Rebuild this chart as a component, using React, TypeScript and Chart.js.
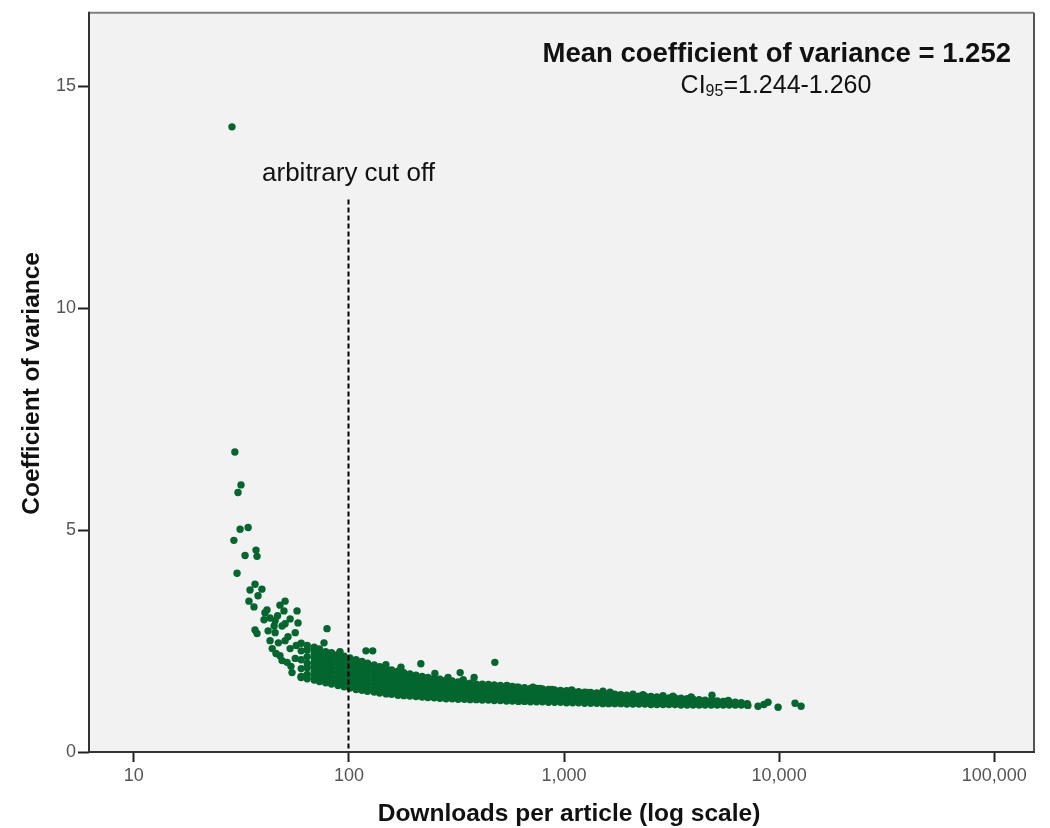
import React, { useEffect, useRef } from "react";
import { Chart, registerables } from "chart.js";

Chart.register(...registerables);

const FONT = '"Liberation Sans", Arial, sans-serif';

const xTickValues = [10, 100, 1000, 10000, 100000];
const yTickValues = [0, 5, 10, 15];
const xTitle = "Downloads per article (log scale)";
const yTitle = "Coefficient of variance";
const meanLabel = "Mean coefficient of variance = 1.252";
const ciPrefix = "CI";
const ciSub = "95";
const ciRange = "=1.244-1.260";
const cutoffLabel = "arbitrary cut off";
const cutoffDownloads = 100;
const cutoffTopCV = 12.45;

// Sparse points at the low-download end
const sparseDownloads = [
  28.6, 29.5, 31.5, 30.5, 31.2, 34.0, 29.2, 32.9, 37.0, 37.4, 30.2, 36.6, 34.7, 39.4, 37.8,
  34.3, 36.2, 41.6, 40.3, 47.8, 50.5, 57.4, 45.4, 36.6, 37.4, 42.1, 50.5, 79.1, 76.6, 90.9,
  120, 129, 54.4, 59.9, 45.8, 48.9, 43.0, 44.0, 47.0, 50.5, 53.3, 52.1, 56.3, 56.9, 47.8,
  51.6, 56.3, 53.8, 46.6, 48.9, 53.3, 49.9, 40.7, 45.4, 58.0, 43.0, 44.9,
];
const sparseCV = [
  14.09, 6.76, 6.02, 5.85, 5.02, 5.06, 4.77, 4.43, 4.55, 4.41, 4.03, 3.78, 3.65, 3.67, 3.52,
  3.40, 3.27, 3.20, 2.98, 3.31, 3.40, 3.18, 2.96, 2.75, 2.67, 2.73, 2.89, 2.78, 2.46, 2.26,
  2.28, 2.28, 1.79, 1.68, 2.22, 2.06, 2.51, 2.33, 2.46, 2.51, 2.33, 2.60, 2.69, 2.40, 2.17,
  2.02, 2.11, 1.93, 3.07, 2.84, 3.00, 3.18, 3.14, 2.69, 2.91, 3.02, 2.84,
];

// Dense band: downloads per column and the CV values seen in that column
const bandDownloads = [
  60, 64, 69, 73, 78, 83, 89, 95, 101, 108,
  115, 122, 131, 139, 149, 158, 169, 180, 192, 205,
  219, 233, 249, 265, 283, 302, 322, 344, 366, 391,
  417, 445, 474, 506, 540, 575, 614, 655, 698, 745,
  794, 847, 904, 964, 1028, 1096, 1169, 1247, 1330, 1419,
  1514, 1614, 1722, 1837, 1959, 2089, 2228, 2377, 2535, 2704,
  2884, 3076, 3281, 3499, 3733, 3981, 4246, 4529, 4831, 5152,
  5495, 5861, 6252, 6668, 7112,
];
const bandCV = [
  [1.70, 1.88, 2.08, 2.28, 2.45],
  [1.65, 1.75, 1.90, 2.00, 2.15, 2.30, 2.40],
  [1.62, 1.72, 1.82, 1.92, 2.02, 2.12, 2.22, 2.32, 2.36],
  [1.59, 1.64, 1.74, 1.84, 1.94, 2.04, 2.14, 2.24, 2.32],
  [1.56, 1.66, 1.76, 1.86, 1.96, 2.06, 2.16, 2.26],
  [1.53, 1.58, 1.68, 1.78, 1.88, 1.98, 2.08, 2.18, 2.24],
  [1.50, 1.60, 1.70, 1.80, 1.90, 2.00, 2.10, 2.20],
  [1.47, 1.52, 1.62, 1.72, 1.82, 1.92, 2.02, 2.12, 2.16],
  [1.44, 1.54, 1.64, 1.74, 1.84, 1.94, 2.04, 2.12],
  [1.41, 1.46, 1.56, 1.66, 1.76, 1.86, 1.96, 2.06, 2.08],
  [1.39, 1.49, 1.59, 1.69, 1.79, 1.89, 1.99, 2.04],
  [1.37, 1.42, 1.52, 1.62, 1.72, 1.82, 1.92, 2.00],
  [1.35, 1.45, 1.55, 1.65, 1.75, 1.85, 1.96],
  [1.33, 1.38, 1.48, 1.58, 1.68, 1.78, 1.88, 1.92],
  [1.31, 1.41, 1.51, 1.61, 1.71, 1.81, 1.88],
  [1.30, 1.35, 1.45, 1.55, 1.65, 1.75, 1.85],
  [1.28, 1.38, 1.48, 1.58, 1.68, 1.78, 1.82],
  [1.27, 1.32, 1.42, 1.52, 1.62, 1.72, 1.79],
  [1.26, 1.36, 1.46, 1.56, 1.66, 1.76],
  [1.25, 1.30, 1.40, 1.50, 1.60, 1.70, 1.73],
  [1.24, 1.34, 1.44, 1.54, 1.64, 1.70],
  [1.23, 1.28, 1.38, 1.48, 1.58, 1.68],
  [1.22, 1.32, 1.42, 1.52, 1.62, 1.66],
  [1.21, 1.26, 1.36, 1.46, 1.56, 1.64],
  [1.20, 1.30, 1.40, 1.50, 1.60, 1.62],
  [1.20, 1.25, 1.35, 1.45, 1.55, 1.60],
  [1.19, 1.29, 1.39, 1.49, 1.58],
  [1.19, 1.24, 1.34, 1.44, 1.54, 1.56],
  [1.18, 1.28, 1.38, 1.48, 1.55],
  [1.18, 1.23, 1.33, 1.43, 1.53],
  [1.17, 1.27, 1.37, 1.47, 1.53],
  [1.17, 1.22, 1.32, 1.42, 1.52],
  [1.16, 1.26, 1.36, 1.46, 1.51],
  [1.16, 1.21, 1.31, 1.41, 1.50],
  [1.15, 1.25, 1.35, 1.45, 1.49],
  [1.15, 1.20, 1.30, 1.40, 1.48],
  [1.14, 1.24, 1.34, 1.44, 1.46],
  [1.14, 1.19, 1.29, 1.39, 1.45],
  [1.13, 1.23, 1.33, 1.43],
  [1.13, 1.18, 1.28, 1.38, 1.43],
  [1.13, 1.22, 1.32, 1.42],
  [1.12, 1.17, 1.27, 1.37, 1.41],
  [1.12, 1.21, 1.31, 1.40],
  [1.12, 1.17, 1.26, 1.35, 1.39],
  [1.11, 1.20, 1.29, 1.38],
  [1.11, 1.16, 1.25, 1.34, 1.37],
  [1.11, 1.20, 1.29, 1.36],
  [1.10, 1.15, 1.24, 1.33, 1.35],
  [1.10, 1.19, 1.28, 1.34],
  [1.10, 1.14, 1.23, 1.31, 1.33],
  [1.09, 1.18, 1.27, 1.32],
  [1.09, 1.14, 1.22, 1.31],
  [1.09, 1.17, 1.25, 1.30],
  [1.09, 1.13, 1.21, 1.29],
  [1.08, 1.16, 1.24, 1.28],
  [1.08, 1.12, 1.20, 1.27],
  [1.08, 1.16, 1.24, 1.26],
  [1.08, 1.12, 1.20, 1.26],
  [1.07, 1.15, 1.23, 1.25],
  [1.07, 1.11, 1.19, 1.24],
  [1.07, 1.15, 1.23],
  [1.07, 1.11, 1.18, 1.22],
  [1.07, 1.14, 1.22],
  [1.06, 1.10, 1.17, 1.21],
  [1.06, 1.13, 1.20],
  [1.06, 1.10, 1.16, 1.19],
  [1.06, 1.12, 1.18],
  [1.06, 1.09, 1.14, 1.17],
  [1.06, 1.11, 1.16],
  [1.06, 1.09, 1.13, 1.15],
  [1.06, 1.10, 1.14],
  [1.06, 1.09, 1.13],
  [1.06, 1.12],
  [1.06, 1.09, 1.11],
  [1.06, 1.09],
];

// Points sticking out above the band
const highDownloads = [
  148.6, 174.6, 216, 251, 289, 329, 340, 382, 477, 543, 603, 717, 773, 880, 1086,
  1279, 1517, 1636, 2092, 2330, 2885, 3210, 3900, 4875, 5800,
];
const highCV = [
  1.97, 1.91, 1.99, 1.77, 1.68, 1.79, 1.63, 1.68, 2.02, 1.50, 1.46, 1.46, 1.43, 1.41, 1.40,
  1.34, 1.37, 1.35, 1.30, 1.29, 1.27, 1.26, 1.24, 1.28, 1.16,
];

// Right-hand tail
const tailDownloads = [7160, 7980, 8500, 8880, 9890, 11860, 12650];
const tailCV = [1.05, 1.03, 1.07, 1.12, 1.01, 1.10, 1.03];

function withCommas(v: number): string {
  const s = String(Math.round(v));
  return s.replace(/\B(?=(\d{3})+(?!\d))/g, ",");
}

export default function App() {
  const ref = useRef<HTMLCanvasElement>(null);

  useEffect(() => {
    if (!ref.current) return;
    const points: { x: number; y: number }[] = [];
    sparseDownloads.forEach((x, i) => points.push({ x, y: sparseCV[i] }));
    bandDownloads.forEach((x, i) => bandCV[i].forEach((y) => points.push({ x, y })));
    highDownloads.forEach((x, i) => points.push({ x, y: highCV[i] }));
    tailDownloads.forEach((x, i) => points.push({ x, y: tailCV[i] }));

    const decor = {
      id: "decor",
      beforeDraw(chart: any) {
        const { ctx, chartArea: a } = chart;
        ctx.save();
        ctx.fillStyle = "#f2f2f2";
        ctx.fillRect(a.left, a.top, a.right - a.left, a.bottom - a.top);
        ctx.restore();
      },
      afterDatasetsDraw(chart: any) {
        const { ctx, chartArea: a, scales } = chart;
        const xs = scales.x;
        const ys = scales.y;
        ctx.save();
        // cut-off line
        const cx = Math.round(xs.getPixelForValue(cutoffDownloads)) - 0.5;
        ctx.strokeStyle = "#000";
        ctx.lineWidth = 2;
        ctx.setLineDash([5, 3]);
        ctx.beginPath();
        ctx.moveTo(cx, ys.getPixelForValue(cutoffTopCV));
        ctx.lineTo(cx, a.bottom);
        ctx.stroke();
        ctx.setLineDash([]);

        // frame
        ctx.lineWidth = 2;
        ctx.strokeStyle = "#808080";
        ctx.beginPath();
        ctx.moveTo(a.left, a.top);
        ctx.lineTo(a.right, a.top);
        ctx.stroke();
        ctx.strokeStyle = "#555";
        ctx.beginPath();
        ctx.moveTo(a.right, a.top);
        ctx.lineTo(a.right, a.bottom);
        ctx.stroke();
        ctx.strokeStyle = "#333";
        ctx.beginPath();
        ctx.moveTo(a.left, a.top - 1);
        ctx.lineTo(a.left, a.bottom);
        ctx.lineTo(a.right + 1, a.bottom);
        ctx.stroke();

        // annotations
        ctx.fillStyle = "#111";
        ctx.textBaseline = "alphabetic";
        ctx.font = `26px ${FONT}`;
        ctx.textAlign = "center";
        ctx.fillText(cutoffLabel, cx, a.top + 168);

        ctx.font = `bold 27.5px ${FONT}`;
        ctx.textAlign = "right";
        ctx.fillText(meanLabel, a.right - 23, a.top + 49);

        ctx.textAlign = "left";
        ctx.font = `25px ${FONT}`;
        const w1 = ctx.measureText(ciPrefix).width;
        const w3 = ctx.measureText(ciRange).width;
        ctx.font = `16px ${FONT}`;
        const w2 = ctx.measureText(ciSub).width;
        const total = w1 + w2 + w3;
        let sx = a.right - 258 - total / 2;
        const base = a.top + 80;
        ctx.font = `25px ${FONT}`;
        ctx.fillText(ciPrefix, sx, base);
        sx += w1;
        ctx.font = `16px ${FONT}`;
        ctx.fillText(ciSub, sx, base + 3);
        sx += w2;
        ctx.font = `25px ${FONT}`;
        ctx.fillText(ciRange, sx, base);

        // axis titles
        ctx.font = `bold 24.5px ${FONT}`;
        ctx.textAlign = "center";
        ctx.fillText(xTitle, 569, 821);
        ctx.save();
        ctx.translate(39, (a.top + a.bottom) / 2 + 1);
        ctx.rotate(-Math.PI / 2);
        ctx.fillText(yTitle, 0, 0);
        ctx.restore();
        ctx.restore();
      },
    };

    const chart = new Chart(ref.current, {
      type: "scatter",
      data: {
        datasets: [
          {
            data: points,
            backgroundColor: "#03662f",
            borderColor: "#03662f",
            borderWidth: 0,
            pointRadius: 3.7,
            pointHoverRadius: 3.7,
          },
        ],
      },
      options: {
        responsive: false,
        animation: false,
        devicePixelRatio: 1,
        events: [],
        layout: { padding: { top: 8, right: 16, bottom: 0, left: 0 } },
        plugins: { legend: { display: false }, tooltip: { enabled: false } },
        scales: {
          x: {
            type: "logarithmic",
            min: 6.19,
            max: 153100,
            afterBuildTicks: (s: any) => {
              s.ticks = xTickValues.map((v) => ({ value: v }));
            },
            afterFit: (s: any) => {
              s.height = 76;
            },
            ticks: {
              callback: (v: any) => withCommas(Number(v)),
              font: { family: FONT, size: 18 },
              color: "#555",
              padding: 3,
              maxRotation: 0,
              autoSkip: false,
            },
            grid: { drawOnChartArea: false, drawTicks: true, tickLength: 10, tickColor: "#222", tickWidth: 2 },
            border: { display: false },
            title: { display: false },
          },
          y: {
            type: "linear",
            min: 0,
            max: 16.66,
            afterBuildTicks: (s: any) => {
              s.ticks = yTickValues.map((v) => ({ value: v }));
            },
            afterFit: (s: any) => {
              s.width = 89;
            },
            ticks: {
              callback: (v: any) => String(v),
              font: { family: FONT, size: 18 },
              color: "#555",
              padding: 2,
            },
            grid: { drawOnChartArea: false, drawTicks: true, tickLength: 11, tickColor: "#222", tickWidth: 2 },
            border: { display: false },
            title: { display: false },
          },
        },
      } as any,
      plugins: [decor],
    });
    return () => chart.destroy();
  }, []);

  return (
    <div style={{ position: "fixed", left: 0, top: 0, width: 1050, height: 828, background: "#fff" }}>
      <canvas ref={ref} width={1050} height={828} style={{ display: "block", width: 1050, height: 828 }} />
    </div>
  );
}
